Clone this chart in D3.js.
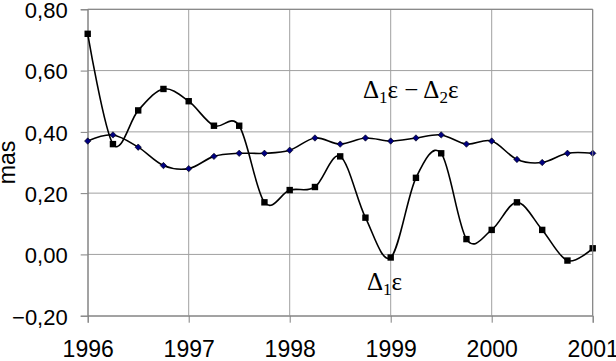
<!DOCTYPE html>
<html>
<head>
<meta charset="utf-8">
<script src="https://cdn.jsdelivr.net/npm/d3@7"></script>
<style>
  body { margin: 0; background: #fff; }
  svg { display: block; }
</style>
</head>
<body>
<svg id="chart" width="616" height="361"></svg>
<script>
// quarterly dates
var dates = [1996, 1996.25, 1996.5, 1996.75, 1997, 1997.25, 1997.5, 1997.75,
             1998, 1998.25, 1998.5, 1998.75, 1999, 1999.25, 1999.5, 1999.75,
             2000, 2000.25, 2000.5, 2000.75, 2001];
// Δ1ε (squares)
var delta1 = [0.72, 0.36, 0.47, 0.54, 0.50, 0.42, 0.42, 0.17,
              0.21, 0.22, 0.32, 0.12, -0.01, 0.25, 0.33, 0.05,
              0.08, 0.17, 0.08, -0.02, 0.02];
// Δ1ε − Δ2ε (diamonds)
var diff = [0.37, 0.39, 0.35, 0.29, 0.28, 0.32, 0.33, 0.33,
            0.34, 0.38, 0.36, 0.38, 0.37, 0.38, 0.39, 0.36,
            0.37, 0.31, 0.30, 0.33, 0.33];
var yTicks = [-0.2, 0, 0.2, 0.4, 0.6, 0.8];
var xTicks = [1996, 1997, 1998, 1999, 2000, 2001];

(function() {
var svg = d3.select('#chart');
var pLeft = 87.7, pRight = 592.7, pTop = 9.3, pBottom = 315.7;

var x = d3.scaleLinear().domain([1996, 2001]).range([pLeft, pRight]);
var y = d3.scaleLinear().domain([-0.2, 0.8]).range([pBottom, pTop]);

var fmt = function(d) { return d3.format('.2f')(d).replace('.', ','); };

// grid
svg.append('g').selectAll('line')
    .data(yTicks).enter().append('line')
    .attr('x1', pLeft).attr('x2', pRight)
    .attr('y1', d => y(d)).attr('y2', d => y(d))
    .attr('stroke', '#a0a0a0').attr('stroke-width', 1);
svg.append('g').selectAll('line')
    .data(xTicks).enter().append('line')
    .attr('x1', d => x(d)).attr('x2', d => x(d))
    .attr('y1', pTop).attr('y2', pBottom)
    .attr('stroke', '#a0a0a0').attr('stroke-width', 1);

// axes
var yAxis = d3.axisLeft(y).tickValues(yTicks).tickSize(7).tickFormat(fmt).tickPadding(13);
var xAxis = d3.axisBottom(x).tickValues(xTicks).tickSize(7).tickFormat(d3.format('d')).tickPadding(18);

var gy = svg.append('g').attr('transform', 'translate(' + pLeft + ',0)').call(yAxis);
var gx = svg.append('g').attr('transform', 'translate(0,' + pBottom + ')').call(xAxis);
[gy, gx].forEach(function(g) {
    g.select('.domain').attr('stroke', '#808080');
    g.selectAll('.tick line').attr('stroke', '#808080');
    g.selectAll('text').attr('fill', '#000')
        .style('font-family', '"Liberation Sans", Arial, sans-serif');
});
gy.selectAll('text').style('font-size', '22px').attr('dy', '0.38em');
gx.selectAll('text').style('font-size', '23px').attr('dy', '0.71em');

svg.append('text')
    .attr('transform', 'translate(15,' + ((pTop + pBottom) / 2) + ') rotate(-90)')
    .attr('text-anchor', 'middle')
    .style('font-family', '"Liberation Sans", Arial, sans-serif')
    .style('font-size', '23px')
    .text('mas');

var curve = d3.curveCardinal.tension(0);
var line = d3.line().curve(curve)
    .x((d, i) => x(dates[i]))
    .y(d => y(d));

svg.append('path').datum(diff)
    .attr('d', line).attr('fill', 'none')
    .attr('stroke', '#000').attr('stroke-width', 1.6);
svg.append('path').datum(delta1)
    .attr('d', line).attr('fill', 'none')
    .attr('stroke', '#000').attr('stroke-width', 1.6);

// markers
svg.append('g').selectAll('path')
    .data(diff).enter().append('path')
    .attr('transform', (d, i) => 'translate(' + x(dates[i]) + ',' + y(d) + ')')
    .attr('d', 'M0,-3.2L3.2,0L0,3.2L-3.2,0Z')
    .attr('fill', '#000080').attr('stroke', '#000').attr('stroke-width', 0.6);
svg.append('g').selectAll('rect')
    .data(delta1).enter().append('rect')
    .attr('x', (d, i) => x(dates[i]) - 3.2)
    .attr('y', d => y(d) - 3.2)
    .attr('width', 6.4).attr('height', 6.4)
    .attr('fill', '#000');

// plot border (top/right)
svg.append('path')
    .attr('d', 'M' + pLeft + ',' + pTop + 'H' + pRight + 'V' + pBottom)
    .attr('fill', 'none').attr('stroke', '#808080');

// annotations
function label(xp, yp, parts) {
    var t = svg.append('text')
        .attr('x', xp).attr('y', yp)
        .style('font-family', '"Liberation Serif", "Times New Roman", serif')
        .style('font-size', '25px').attr('fill', '#000');
    parts.forEach(function(p) {
        var s = t.append('tspan').text(p.t);
        if (p.sub) s.attr('dy', 5).style('font-size', '17px');
        if (p.up) s.attr('dy', -5);
    });
}
label(363, 98, [{t: 'Δ'}, {t: '1', sub: true}, {t: 'ε − Δ', up: true}, {t: '2', sub: true}, {t: 'ε', up: true}]);
label(367, 290, [{t: 'Δ'}, {t: '1', sub: true}, {t: 'ε', up: true}]);
})();
</script>
</body>
</html>
